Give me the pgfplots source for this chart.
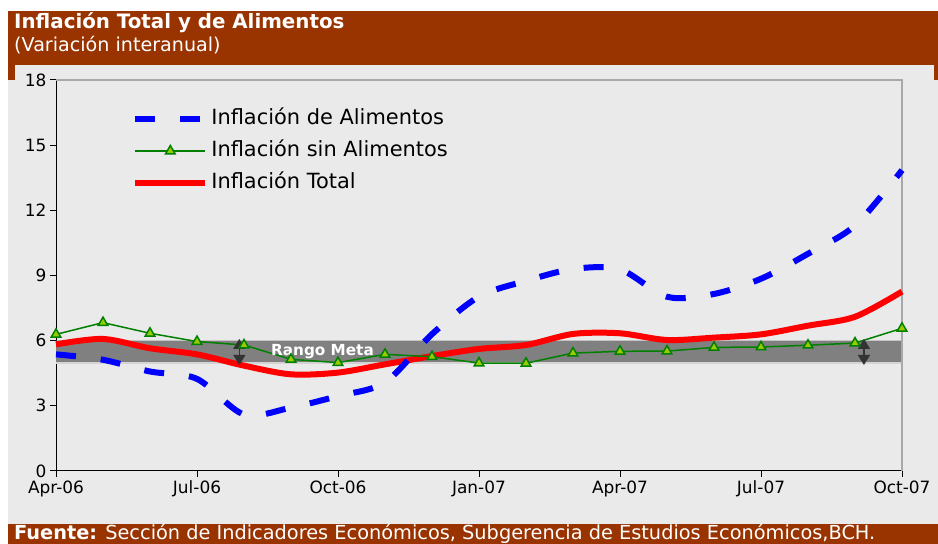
\documentclass[border=0pt]{standalone}
\usepackage{pgfplots}
\pgfplotsset{compat=1.18}
\usetikzlibrary{arrows.meta}
\usepackage{fontspec}
\setmainfont{DejaVu Sans}

\definecolor{hdrbrown}{HTML}{993300}
\definecolor{bggray}{HTML}{EAEAEA}
\definecolor{bandgray}{HTML}{808080}
\definecolor{bandedge}{HTML}{D4D4D4}
\definecolor{framegray}{HTML}{A8A8A8}
\definecolor{arrowgray}{HTML}{333333}
\definecolor{foodblue}{HTML}{0000FF}
\definecolor{totalred}{HTML}{FF0000}
\definecolor{linegreen}{HTML}{008000}
\definecolor{markgreen}{HTML}{99CC00}

% month index: 0 = Apr-06 ... 18 = Oct-07
\pgfplotstableread{
m food  core  total
0  5.37  6.29  5.83
1  5.12  6.83  6.08
2  4.58  6.34  5.65
3  4.24  5.96  5.37
4  2.60  5.80  4.85
5  2.92  5.14  4.45
6  3.45  4.99  4.53
7  4.08  5.37  4.91
8  6.30  5.26  5.29
9  8.03  4.97  5.62
10 8.75  4.96  5.80
11 9.30  5.43  6.31
12 9.28  5.51  6.34
13 8.02  5.52  6.03
14 8.15  5.69  6.14
15 8.85  5.71  6.29
16 10.00 5.79  6.69
17 11.30 5.89  7.10
18 13.85 6.57  8.26
}\datatable

\begin{document}
\begin{tikzpicture}
\useasboundingbox (0bp,0bp) rectangle (938bp,544bp);
\fill[bggray] (8bp,20bp) rectangle (938bp,479bp);
\fill[hdrbrown] (8bp,479bp) rectangle (938bp,533bp);
\fill[hdrbrown] (8bp,464bp) rectangle (15bp,479bp);
\fill[hdrbrown] (934bp,464bp) rectangle (938bp,479bp);
\fill[hdrbrown] (8bp,0bp) rectangle (938bp,20bp);
\node[anchor=base west, text=white, inner sep=0pt, font=\bfseries\fontsize{19.9}{22}\selectfont]
  at (14bp,515bp) {Inflación Total y de Alimentos};
\node[anchor=base west, text=white, inner sep=0pt, font=\fontsize{19.2}{21}\selectfont]
  at (14bp,492bp) {(Variación interanual)};
\node[anchor=base west, text=white, inner sep=0pt, font=\fontsize{19.4}{20}\selectfont]
  at (14bp,4.3bp) {\textbf{Fuente:} Sección de Indicadores Económicos, Subgerencia de Estudios Económicos,BCH.};

\begin{axis}[
  at={(56bp,73bp)}, anchor=south west,
  scale only axis, width=846bp, height=391bp,
  xmin=0, xmax=18, ymin=0, ymax=18,
  axis x line*=bottom, axis y line*=left,
  axis line style={black, line width=1bp},
  xtick={0,3,...,18},
  xticklabels={Apr-06,Jul-06,Oct-06,Jan-07,Apr-07,Jul-07,Oct-07},
  ytick={0,3,...,18},
  tick align=outside, major tick length=6bp,
  tick style={black, line width=1bp},
  ticklabel style={font=\fontsize{17}{20}\selectfont},
  /pgf/number format/assume math mode=true,
  clip=false,
  legend cell align=left,
  legend image code/.code={\draw[mark repeat=2,mark phase=2,#1]
    plot coordinates {(0bp,0bp) (35bp,0bp) (70bp,0bp)};},
  legend style={draw=none, fill=none, at={(axis cs:1.62,14.73)}, anchor=west,
    font=\fontsize{21}{24}\selectfont, row sep=13bp, column sep=3bp,
    inner sep=0pt, nodes={inner sep=0pt, text height=15bp, text depth=4bp}},
]
\addlegendimage{foodblue, line width=6bp, dash pattern=on 20bp off 25bp}
\addlegendentry{Inflación de Alimentos}
\addlegendimage{linegreen, line width=1.5bp, mark=triangle*, mark size=5.5bp,
  mark options={fill=markgreen, draw=linegreen, solid}}
\addlegendentry{Inflación sin Alimentos}
\addlegendimage{totalred, line width=6bp}
\addlegendentry{Inflación Total}

\addplot[draw=none, fill=bandgray, forget plot] coordinates {(0,5) (18,5) (18,6) (0,6) (0,5)};
\addplot[bandedge, line width=1.5bp, forget plot] coordinates {(0,4.97) (18,4.97)};
\draw[framegray, line width=1.5bp] (rel axis cs:0,1) -- (rel axis cs:1,1) -- (rel axis cs:1,0);

\addplot[totalred, line width=6bp, smooth, forget plot] table[x=m, y=total] {\datatable};
\addplot[linegreen, line width=1.5bp, mark=triangle*, mark size=5.5bp,
  mark options={fill=markgreen, draw=linegreen, solid}, forget plot] table[x=m, y=core] {\datatable};
\addplot[foodblue, line width=6bp, smooth, dash pattern=on 20bp off 25bp, forget plot]
  table[x=m, y=food] {\datatable};

\node[text=white, font=\bfseries\fontsize{15.3}{18}\selectfont] at (axis cs:5.67,5.5) {Rango Meta};
\draw[arrowgray, line width=1.5bp, {Triangle[width=12bp,length=10bp]}-{Triangle[width=12bp,length=10bp]}]
  (axis cs:3.9,6.08) -- (axis cs:3.9,4.88);
\draw[arrowgray, line width=1.5bp, {Triangle[width=12bp,length=10bp]}-{Triangle[width=12bp,length=10bp]}]
  (axis cs:17.19,6.08) -- (axis cs:17.19,4.88);
\end{axis}
\end{tikzpicture}
\end{document}
